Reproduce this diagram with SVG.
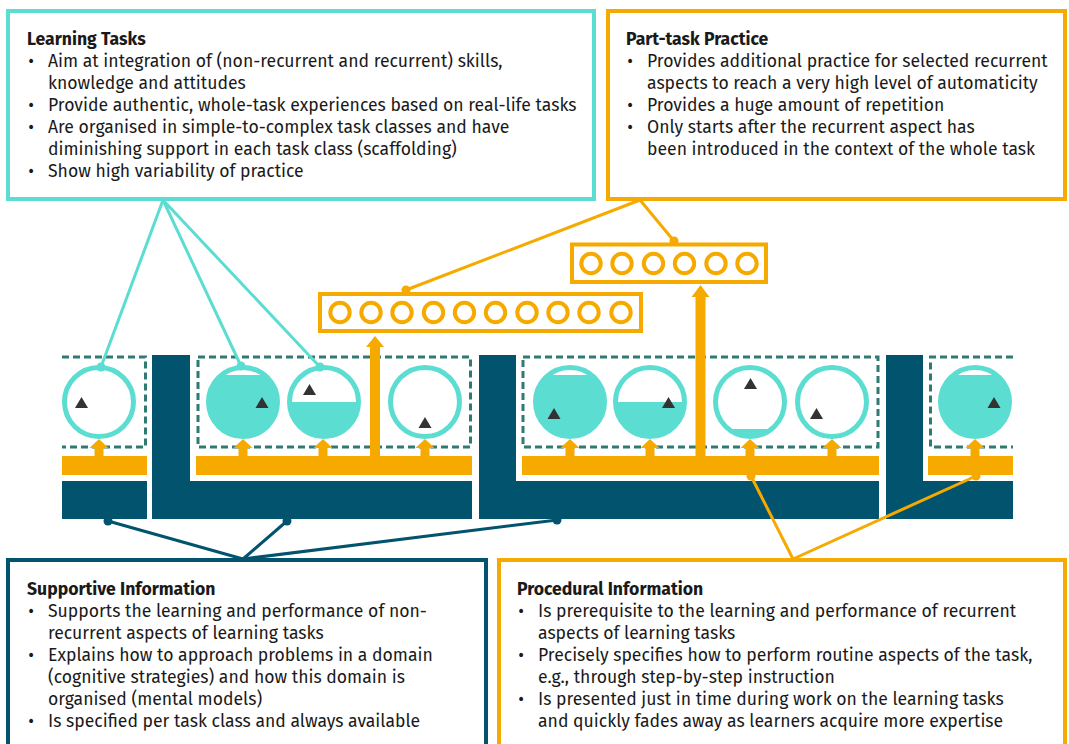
<svg xmlns="http://www.w3.org/2000/svg" width="1069" height="744" viewBox="0 0 1069 744">
<style>
.box{fill:#fff;stroke-width:4}
.t{font-family:"Fira Sans","Noto Sans",sans-serif;font-size:17.6px;fill:#1a1a1a}
.h{font-weight:bold}
.teal{fill:#5cddd2}
.dark{fill:#02536e}
.org{fill:#f6aa00}
.dash{fill:none;stroke:#2f7a72;stroke-width:3;stroke-dasharray:7 4}
.ring{fill:#fff;stroke:#5cddd2;stroke-width:5}
.tri{fill:#333}
.pc{fill:none;stroke:#f6aa00;stroke-width:4}
.pb{fill:#fff;stroke:#f6aa00;stroke-width:4}
.lt{stroke:#5cddd2;stroke-width:3;fill:none}
.lo{stroke:#f6aa00;stroke-width:3;fill:none}
.ld{stroke:#02536e;stroke-width:3;fill:none}
</style>
<defs>
<clipPath id="cc"><circle cx="0" cy="0" r="34.5"/></clipPath>
<path id="ar" d="M-4.5 16 V7 H-9.5 L0 -2 L9.5 7 H4.5 V16 Z"/>
<path id="tr" d="M0 -11 L6.5 0 L-6.5 0 Z"/>
</defs>

<!-- Dark blue supportive bars -->
<g id="supportive-bars" class="dark">
<rect x="62" y="481" width="85" height="38"/>
<path d="M152 355 H190 V481 H472 V519 H152 Z"/>
<path d="M479 355 H516 V481 H879 V519 H479 Z"/>
<path d="M886 355 H923 V481 H1013 V519 H886 Z"/>
</g>

<!-- Orange procedural bars -->
<g id="procedural-bars" class="org">
<rect x="62" y="456" width="85" height="19"/>
<rect x="196" y="456" width="276" height="19"/>
<rect x="522" y="456" width="357" height="19"/>
<rect x="928" y="456" width="85" height="19"/>
</g>

<!-- Task class dashed boxes -->
<g id="task-classes">
<path class="dash" d="M62 357 H145.5 V447 H62"/>
<rect class="dash" x="198" y="357" width="272.5" height="90"/>
<rect class="dash" x="523" y="357" width="355" height="90"/>
<path class="dash" d="M1013 357 H930.5 V447 H1013"/>
</g>

<!-- small arrows -->
<g id="small-arrows" class="org">
<use href="#ar" x="99" y="441"/>
<use href="#ar" x="243" y="441"/>
<use href="#ar" x="323" y="441"/>
<use href="#ar" x="425" y="441"/>
<use href="#ar" x="570" y="441"/>
<use href="#ar" x="650" y="441"/>
<use href="#ar" x="750" y="441"/>
<use href="#ar" x="832" y="441"/>
<use href="#ar" x="975" y="441"/>
</g>

<!-- big arrows -->
<g id="big-arrows" class="org">
<path d="M370 458 V347 H366 L375 336 L384 347 H380 V458 Z"/>
<path d="M695.5 458 V297 H691.5 L700.5 285 L709.5 297 H705.5 V458 Z"/>
</g>

<!-- Learning task circles -->
<g id="task1" transform="translate(99,402)"><circle class="ring" r="34.5"/><use href="#tr" class="tri" x="-17.5" y="6"/></g>
<g id="task2" transform="translate(243,402)"><circle class="ring" r="34.5"/><rect class="teal" x="-40" y="-27" width="80" height="70" clip-path="url(#cc)"/><use href="#tr" class="tri" x="19" y="6"/></g>
<g id="task3" transform="translate(324,402)"><circle class="ring" r="34.5"/><rect class="teal" x="-40" y="0" width="80" height="40" clip-path="url(#cc)"/><use href="#tr" class="tri" x="-14.5" y="-7"/></g>
<g id="task4" transform="translate(425,402)"><circle class="ring" r="34.5"/><use href="#tr" class="tri" x="0" y="26"/></g>
<g id="task5" transform="translate(570,402)"><circle class="ring" r="34.5"/><rect class="teal" x="-40" y="-27" width="80" height="70" clip-path="url(#cc)"/><use href="#tr" class="tri" x="-16" y="17"/></g>
<g id="task6" transform="translate(650,402)"><circle class="ring" r="34.5"/><rect class="teal" x="-40" y="0" width="80" height="40" clip-path="url(#cc)"/><use href="#tr" class="tri" x="18.5" y="6"/></g>
<g id="task7" transform="translate(750,402)"><circle class="ring" r="34.5"/><rect class="teal" x="-40" y="27" width="80" height="20" clip-path="url(#cc)"/><use href="#tr" class="tri" x="0.5" y="-13"/></g>
<g id="task8" transform="translate(832,402)"><circle class="ring" r="34.5"/><use href="#tr" class="tri" x="-15.5" y="17"/></g>
<g id="task9" transform="translate(975,402)"><circle class="ring" r="34.5"/><rect class="teal" x="-40" y="-27" width="80" height="70" clip-path="url(#cc)"/><use href="#tr" class="tri" x="19" y="6"/></g>

<!-- Part-task practice boxes -->
<g id="practice-lower">
<rect class="pb" x="320" y="294" width="321" height="37"/>
<g class="pc">
<circle cx="340" cy="312.5" r="9.7"/><circle cx="371" cy="312.5" r="9.7"/><circle cx="402" cy="312.5" r="9.7"/><circle cx="433.5" cy="312.5" r="9.7"/><circle cx="464.5" cy="312.5" r="9.7"/><circle cx="495.5" cy="312.5" r="9.7"/><circle cx="527" cy="312.5" r="9.7"/><circle cx="558" cy="312.5" r="9.7"/><circle cx="589" cy="312.5" r="9.7"/><circle cx="621" cy="312.5" r="9.7"/>
</g>
</g>
<g id="practice-upper">
<rect class="pb" x="572" y="244.5" width="194" height="37.5"/>
<g class="pc">
<circle cx="591" cy="263.5" r="9.7"/><circle cx="622" cy="263.5" r="9.7"/><circle cx="653.5" cy="263.5" r="9.7"/><circle cx="684.5" cy="263.5" r="9.7"/><circle cx="716" cy="263.5" r="9.7"/><circle cx="747" cy="263.5" r="9.7"/>
</g>
</g>

<!-- Connectors -->
<g id="connectors">
<path class="lt" d="M163 200 L101 367 M163 200 L241 366 M163 200 L320 367"/>
<circle cx="101" cy="367" r="4.5" class="teal"/><circle cx="241" cy="366" r="4.5" class="teal"/><circle cx="320" cy="367" r="4.5" class="teal"/>
<path class="lo" d="M640 200 L674 241 M640 200 L406 290"/>
<circle cx="674" cy="241" r="4.5" class="org"/><circle cx="406" cy="290" r="4.5" class="org"/>
<path class="ld" d="M243 559 L108 521 M243 559 L287 521 M243 559 L557 520"/>
<circle cx="108" cy="521" r="4.5" class="dark"/><circle cx="287" cy="521" r="4.5" class="dark"/><circle cx="557" cy="520" r="4.5" class="dark"/>
<path class="lo" d="M793 559 L751 476 M793 559 L976 476"/>
<circle cx="751" cy="476" r="4.5" class="org"/><circle cx="976" cy="476" r="4.5" class="org"/>
</g>

<!-- Learning Tasks box -->
<g id="learning-tasks">
<rect class="box" x="8" y="11" width="586" height="188" stroke="#5cddd2"/>
<text class="t h" x="27" y="45">Learning Tasks</text>
<g class="t">
<text x="31" y="67" text-anchor="middle">•</text><text x="48" y="67">Aim at integration of (non-recurrent and recurrent) skills,</text>
<text x="48" y="89">knowledge and attitudes</text>
<text x="31" y="111" text-anchor="middle">•</text><text x="48" y="111">Provide authentic, whole-task experiences based on real-life tasks</text>
<text x="31" y="133" text-anchor="middle">•</text><text x="48" y="133">Are organised in simple-to-complex task classes and have</text>
<text x="48" y="155">diminishing support in each task class (scaffolding)</text>
<text x="31" y="177" text-anchor="middle">•</text><text x="48" y="177">Show high variability of practice</text>
</g>
</g>

<!-- Part-task Practice box -->
<g id="part-task-practice">
<rect class="box" x="608" y="11" width="457" height="188" stroke="#f6aa00"/>
<text class="t h" x="626" y="45">Part-task Practice</text>
<g class="t">
<text x="630" y="67" text-anchor="middle">•</text><text x="647" y="67">Provides additional practice for selected recurrent</text>
<text x="647" y="89">aspects to reach a very high level of automaticity</text>
<text x="630" y="111" text-anchor="middle">•</text><text x="647" y="111">Provides a huge amount of repetition</text>
<text x="630" y="133" text-anchor="middle">•</text><text x="647" y="133">Only starts after the recurrent aspect has</text>
<text x="647" y="155">been introduced in the context of the whole task</text>
</g>
</g>

<!-- Supportive Information box -->
<g id="supportive-information">
<rect class="box" x="8" y="560" width="478" height="200" stroke="#02536e"/>
<text class="t h" x="27" y="595">Supportive Information</text>
<g class="t">
<text x="31" y="617" text-anchor="middle">•</text><text x="48" y="617">Supports the learning and performance of non-</text>
<text x="48" y="639">recurrent aspects of learning tasks</text>
<text x="31" y="661" text-anchor="middle">•</text><text x="48" y="661">Explains how to approach problems in a domain</text>
<text x="48" y="683">(cognitive strategies) and how this domain is</text>
<text x="48" y="705">organised (mental models)</text>
<text x="31" y="727" text-anchor="middle">•</text><text x="48" y="727">Is specified per task class and always available</text>
</g>
</g>

<!-- Procedural Information box -->
<g id="procedural-information">
<rect class="box" x="499" y="560" width="566" height="200" stroke="#f6aa00"/>
<text class="t h" x="517" y="595">Procedural Information</text>
<g class="t">
<text x="521" y="617" text-anchor="middle">•</text><text x="538" y="617">Is prerequisite to the learning and performance of recurrent</text>
<text x="538" y="639">aspects of learning tasks</text>
<text x="521" y="661" text-anchor="middle">•</text><text x="538" y="661">Precisely specifies how to perform routine aspects of the task,</text>
<text x="538" y="683">e.g., through step-by-step instruction</text>
<text x="521" y="705" text-anchor="middle">•</text><text x="538" y="705">Is presented just in time during work on the learning tasks</text>
<text x="538" y="727">and quickly fades away as learners acquire more expertise</text>
</g>
</g>
</svg>
